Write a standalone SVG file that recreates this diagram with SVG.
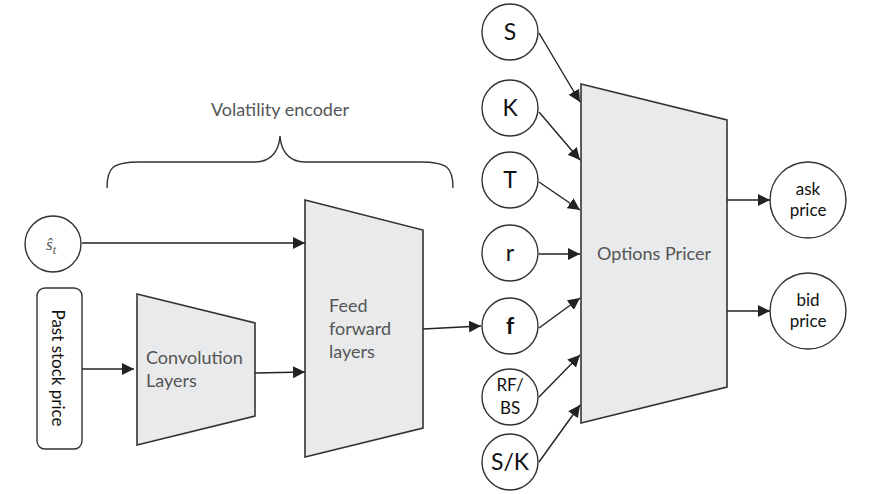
<svg xmlns="http://www.w3.org/2000/svg" width="871" height="494" viewBox="0 0 871 494">
<defs><marker id="a" viewBox="0 0 10 10" refX="10" refY="5" markerWidth="12" markerHeight="12" markerUnits="userSpaceOnUse" orient="auto"><path d="M0,0L10,5L0,10z" fill="#222"/></marker></defs>
<style>
.s{fill:#e8eaeb;stroke:#333;stroke-width:1.6}
.c{fill:#fff;stroke:#333;stroke-width:1.4}
.t{font-family:Lato,"Liberation Sans",sans-serif;fill:#555;font-size:18px}
.k{font-family:Lato,"Liberation Sans",sans-serif;fill:#111;font-size:23px;text-anchor:middle}
.m{font-family:Lato,"Liberation Sans",sans-serif;fill:#111;font-size:17px;text-anchor:middle}
.l{stroke:#222;stroke-width:1.4;fill:none;marker-end:url(#a)}
</style>
<rect width="871" height="494" fill="#fff"/>
<g id="encoder-label"><text class="t" x="280" y="116" text-anchor="middle">Volatility encoder</text>
<path d="M107,188 C107,168 112,162 140,162 L255,162 C272,162 279,150 280,136 C281,150 288,162 305,162 L420,162 C448,162 453,168 453,188" fill="none" stroke="#333" stroke-width="1.4"/></g>
<g id="st"><circle class="c" cx="53" cy="244" r="28"/><text x="51" y="250" font-family="Liberation Serif,serif" font-style="italic" font-size="17" fill="#555" text-anchor="middle">ŝ<tspan font-size="12" dy="4">t</tspan></text></g>
<g id="past"><rect class="c" x="37" y="288" width="45" height="161" rx="8"/><text class="m" font-size="20" transform="translate(52,368) rotate(90)">Past stock price</text></g>
<g id="conv"><path class="s" d="M137,294L255,323L255,416L137,445Z"/><text class="t" x="146" y="364">Convolution</text><text class="t" x="146" y="387">Layers</text></g>
<g id="ff"><path class="s" d="M305,200L423,230L423,428L305,457Z"/><text class="t" x="329" y="312">Feed</text><text class="t" x="329" y="335">forward</text><text class="t" x="329" y="358">layers</text></g>
<g id="pricer"><path class="s" d="M581,84L727,120L727,387L581,423Z"/><text class="t" x="654" y="260" text-anchor="middle">Options Pricer</text></g>
<g id="S"><circle class="c" cx="510" cy="32" r="28"/><text class="k" x="510" y="40">S</text></g>
<g id="K"><circle class="c" cx="510" cy="108" r="28"/><text class="k" x="510" y="116">K</text></g>
<g id="T"><circle class="c" cx="510" cy="180" r="28"/><text class="k" x="510" y="188">T</text></g>
<g id="r"><circle class="c" cx="510" cy="253" r="28"/><text class="k" x="510" y="261">r</text></g>
<g id="f"><circle class="c" cx="510" cy="326" r="28"/><text class="k" x="510" y="334" font-weight="bold">f</text></g>
<g id="RFBS"><circle class="c" cx="510" cy="397" r="28"/><text class="m" x="510" y="391">RF/</text><text class="m" x="510" y="414">BS</text></g>
<g id="SK"><circle class="c" cx="510" cy="462" r="28"/><text class="k" x="510" y="470">S/K</text></g>
<g id="ask"><circle class="c" cx="808" cy="200" r="38"/><text class="m" x="808" y="195">ask</text><text class="m" x="808" y="216">price</text></g>
<g id="bid"><circle class="c" cx="808" cy="311" r="38"/><text class="m" x="808" y="306">bid</text><text class="m" x="808" y="327">price</text></g>
<g id="connectors">
<path class="l" d="M82,243L305,243"/>
<path class="l" d="M82,369L134,369"/>
<path class="l" d="M255,373L305,372"/>
<path class="l" d="M423,329L481,326"/>
<path class="l" d="M539,33L580,102"/>
<path class="l" d="M539,112L580,160"/>
<path class="l" d="M539,182L580,210"/>
<path class="l" d="M539,254L580,254"/>
<path class="l" d="M539,328L580,298"/>
<path class="l" d="M539,397L580,355"/>
<path class="l" d="M539,462L580,405"/>
<path class="l" d="M727,200L770,200"/>
<path class="l" d="M727,311L770,311"/>
</g>
</svg>
